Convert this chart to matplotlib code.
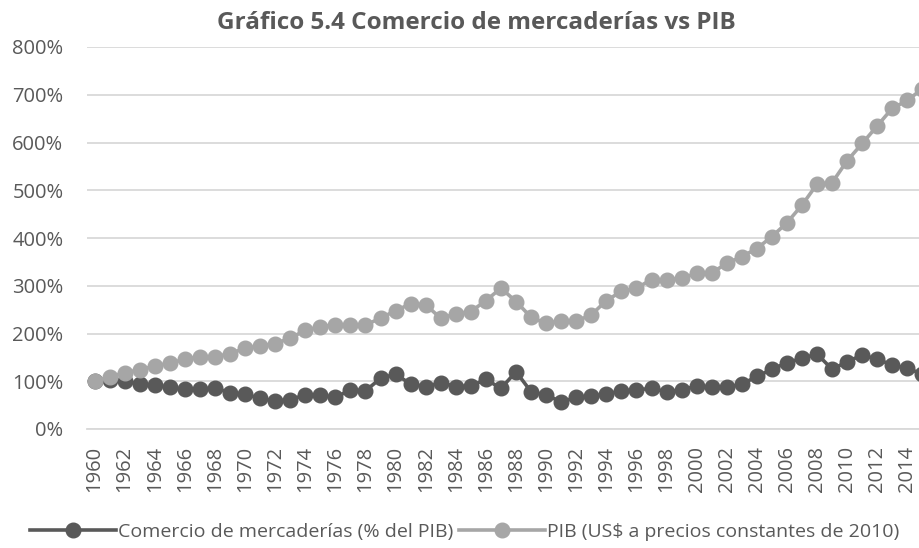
import matplotlib
matplotlib.use("Agg")

import numpy as np
import matplotlib.pyplot as plt
from matplotlib.ticker import FuncFormatter

# Data (index 1960 = 100%)
years = list(range(1960, 2016))

comercio = [100, 103, 100, 94, 92, 87, 83, 83, 86, 76,
            73, 64, 59, 61, 72, 71, 66, 82, 80, 106,
            115, 94, 89, 97, 89, 90, 104, 85, 120, 78,
            71, 57, 66, 69, 73, 80, 82, 85, 78, 82,
            90, 87, 87, 94, 110, 125, 139, 148, 157, 125,
            141, 155, 146, 134, 127, 115]

pib = [100, 109, 118, 124, 132, 138, 146, 151, 151, 158,
       169, 174, 179, 190, 207, 214, 218, 218, 218, 232,
       248, 262, 260, 232, 241, 246, 269, 295, 267, 234,
       221, 227, 226, 239, 269, 288, 295, 313, 312, 316,
       326, 327, 347, 361, 378, 403, 432, 469, 513, 516,
       562, 598, 635, 672, 688, 713]

y_ticks = [0, 100, 200, 300, 400, 500, 600, 700, 800]

title = "Gráfico 5.4 Comercio de mercaderías vs PIB"
label_com = "Comercio de mercaderías (% del PIB)"
label_pib = "PIB (US$ a precios constantes de 2010)"

text_col = "#595959"
plt.rcParams["font.family"] = ["Open Sans", "DejaVu Sans"]

fig = plt.figure(figsize=(9.2, 5.48), dpi=100)
# axes deliberately run past the right edge, as in the cropped original
ax = fig.add_axes([87 / 920, 1 - 429 / 548, 843 / 920, (429 - 47) / 548])

ax.plot(years, comercio, color="#595959", lw=2.6, marker="o", ms=10.5,
        mec="#595959", mfc="#595959", label=label_com, zorder=3)
ax.plot(years, pib, color="#a6a6a6", lw=2.6, marker="o", ms=10.5,
        mec="#a6a6a6", mfc="#a6a6a6", label=label_pib, zorder=4)

ax.set_xlim(1959.5, 2015.5)
ax.set_ylim(0, 800)
ax.set_yticks(y_ticks)
ax.yaxis.set_major_formatter(FuncFormatter(lambda v, p: f"{v:.0f}%"))
ax.set_xticks(years[::2])
ax.set_xticklabels([str(y) for y in years[::2]], rotation=90)

ax.grid(axis="y", color="#d9d9d9", lw=1.3)
ax.set_axisbelow(True)
for side in ["top", "right", "left"]:
    ax.spines[side].set_visible(False)
ax.spines["bottom"].set_color("#d9d9d9")
ax.spines["bottom"].set_linewidth(1.3)
ax.tick_params(axis="both", length=0, colors=text_col, labelsize=14.5)
ax.tick_params(axis="y", pad=17)
ax.tick_params(axis="x", pad=12)

fig.text(0.518, 1 - 23 / 548, title, ha="center", va="center",
         fontsize=17.5, fontweight="bold", color=text_col)

leg = fig.legend(loc="center", bbox_to_anchor=(0.505, 1 - 532 / 548),
                 ncol=2, frameon=False, fontsize=14, handlelength=4.4,
                 handletextpad=0.1, columnspacing=0.3, borderaxespad=0)
for t in leg.get_texts():
    t.set_color(text_col)

fig.savefig("out.png", dpi=100)
